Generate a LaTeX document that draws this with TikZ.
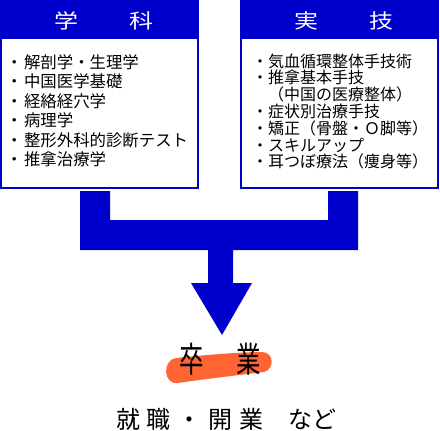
\documentclass[tikz,border=0pt]{standalone}
\usepackage{fontspec}
\usepackage{graphicx}
\setmainfont{Noto Sans CJK JP}
\definecolor{cblue}{RGB}{0,0,204}
\definecolor{brush}{RGB}{255,100,50}
\newcommand\hzs[1]{\scalebox{1.2}[1]{#1}}
\newcommand\vts[1]{\scalebox{0.7}[1]{#1}}
\begin{document}
\begin{tikzpicture}[x=1pt,y=-1pt,
  panel/.style={draw=cblue, line width=2pt, fill=white, minimum width=197pt, minimum height=187pt, inner sep=0pt},
  hdr/.style={fill=cblue, minimum width=199pt, minimum height=39pt, inner sep=0pt, anchor=north west},
  hdrtxt/.style={text=white, font=\fontsize{20}{24}\selectfont, inner sep=0pt},
  item/.style={anchor=west, inner sep=0pt, font=\fontsize{16}{19}\selectfont},
  litem/.style={anchor=west, inner sep=0pt, font=\fontsize{16.4}{19}\selectfont},
  flow/.style={fill=cblue},
  bigtxt/.style={inner sep=0pt, font=\fontsize{35}{40}\selectfont},
  endtxt/.style={inner sep=0pt, anchor=west, font=\fontsize{24}{28}\selectfont}]
\useasboundingbox (0,0) rectangle (440,431);
% left panel
\node[panel] (L) at (99.5,94.5) {};
\node[hdr] (Lh) at (0,0) {};
\node[hdrtxt] (Lt) at (104,21) {\hzs{学}\hspace{51pt}\hzs{科}};
\foreach \t [count=\i from 0] in {解剖学・生理学,中国医学基礎,経絡経穴学,病理学,整形外科的診断テスト,推拿治療学}
  \node[litem] (l\i) at (6,62+19.5*\i) {・\hspace{1.5pt}\t};
% right panel
\node[panel] (R) at (339.5,94.5) {};
\node[hdr] (Rh) at (240,0) {};
\node[hdrtxt] (Rt) at (344,21) {\hzs{実}\hspace{51pt}\hzs{技}};
\foreach \t [count=\i from 0] in {・気血循環整体手技術,・推拿基本手技,\phantom{・}（中国の医療整体）,・症状別治療手技,・矯正（骨盤・Ｏ脚等）,・スキルアップ,・耳つぼ療法（痩身等）}
  \node[item] (r\i) at (252,61+16.8*\i) {\t};
% merging arrow
\coordinate (a1) at (80,191);
\coordinate (a2) at (358,191);
\fill[flow] (a1) -- (110,191) -- (110,220) -- (328,220) -- (328,191) -- (a2) -- (358,250)
  -- (233,250) -- (233,283) -- (252,283) -- (222,335) -- (191,283) -- (208,283)
  -- (208,250) -- (80,250) -- cycle;
% brush stroke
\fill[brush] (176,358) .. controls (205,355) and (240,352) .. (262,352)
  .. controls (274,352) and (275,369) .. (264,372)
  .. controls (240,375) and (205,379) .. (178,383)
  .. controls (163,385) and (162,360) .. (176,358) -- cycle;
\node[bigtxt] (grad) at (220,359) {\vts{卒}\hspace{32pt}\vts{業}};
\node[endtxt] (job) at (116,419) {\addfontfeature{LetterSpace=28}就職・開業};
\node[endtxt] (etc) at (288,419) {など};
\end{tikzpicture}
\end{document}
